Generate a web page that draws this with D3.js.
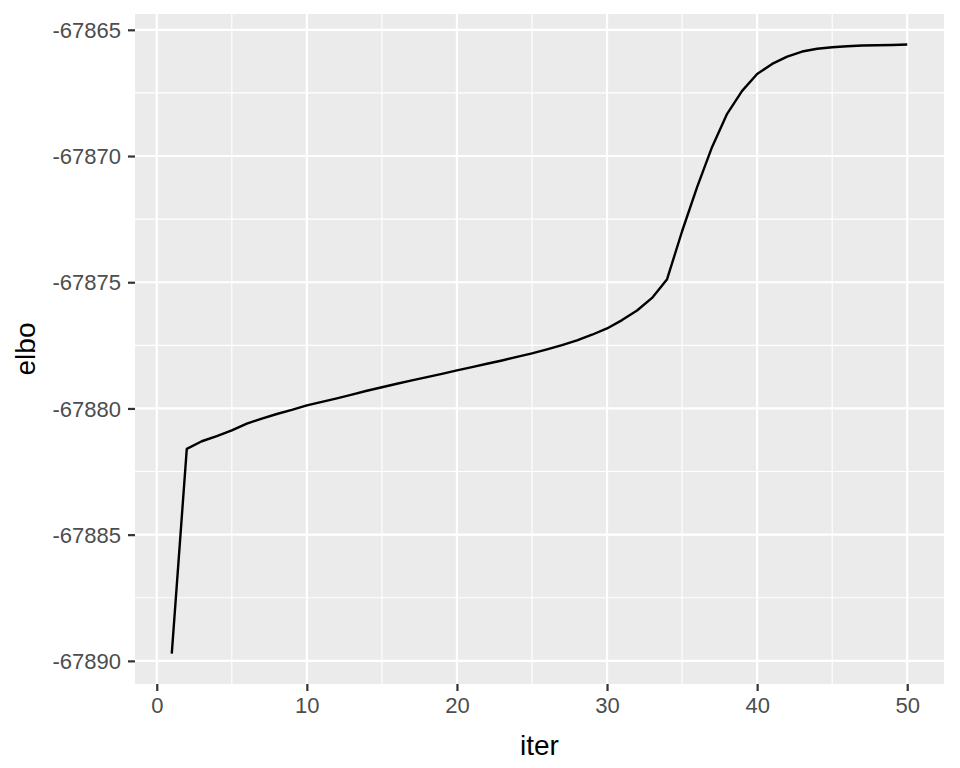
<!DOCTYPE html>
<html>
<head>
<meta charset="utf-8">
<script src="https://cdn.jsdelivr.net/npm/d3@7"></script>
<style>
  body { margin: 0; background: #fff; }
  text { font-family: "Liberation Sans", Arial, sans-serif; }
</style>
</head>
<body>
<div id="chart"></div>
<script>
// data
var iters = [1,2,3,4,5,6,7,8,9,10,11,12,13,14,15,16,17,18,19,20,21,22,23,24,25,
             26,27,28,29,30,31,32,33,34,35,36,37,38,39,40,41,42,43,44,45,46,47,48,49,50];
var elbo = [-67889.71,-67881.6,-67881.3,-67881.1,-67880.87,-67880.6,-67880.4,-67880.22,-67880.06,-67879.88,
            -67879.74,-67879.6,-67879.45,-67879.3,-67879.16,-67879.02,-67878.89,-67878.76,-67878.63,-67878.49,
            -67878.36,-67878.23,-67878.1,-67877.96,-67877.82,-67877.66,-67877.49,-67877.3,-67877.08,-67876.83,
            -67876.5,-67876.12,-67875.62,-67874.88,-67872.98,-67871.23,-67869.64,-67868.33,-67867.42,-67866.75,
            -67866.35,-67866.06,-67865.86,-67865.75,-67865.69,-67865.65,-67865.62,-67865.61,-67865.6,-67865.58];
var xTicks = [0, 10, 20, 30, 40, 50];
var xMinor = [5, 15, 25, 35, 45];
var yTicks = [-67890, -67885, -67880, -67875, -67870, -67865];
var yMinor = [-67887.5, -67882.5, -67877.5, -67872.5, -67867.5];

var data = iters.map(function(d, i) { return {iter: d, elbo: elbo[i]}; });

var width = 960, height = 768;
var margin = {top: 14, right: 16, bottom: 84, left: 135};
var pw = width - margin.left - margin.right,
    ph = height - margin.top - margin.bottom;

var svg = d3.select("#chart").append("svg")
    .attr("width", width)
    .attr("height", height);

// ggplot style 5% expansion
var xr = d3.extent(iters), yr = d3.extent(elbo);
var xpad = (xr[1] - xr[0]) * 0.05, ypad = (yr[1] - yr[0]) * 0.05;

var x = d3.scaleLinear().domain([xr[0] - xpad, xr[1] + xpad]).range([0, pw]);
var y = d3.scaleLinear().domain([yr[0] - ypad, yr[1] + ypad]).range([ph, 0]);

var g = svg.append("g")
    .attr("transform", "translate(" + margin.left + "," + margin.top + ")");

g.append("rect")
    .attr("width", pw)
    .attr("height", ph)
    .attr("fill", "#ebebeb");

// minor grid
g.selectAll(".xminor").data(xMinor).enter().append("line")
    .attr("x1", function(d) { return x(d); }).attr("x2", function(d) { return x(d); })
    .attr("y1", 0).attr("y2", ph)
    .attr("stroke", "#fff").attr("stroke-width", 1.1);
g.selectAll(".yminor").data(yMinor).enter().append("line")
    .attr("y1", function(d) { return y(d); }).attr("y2", function(d) { return y(d); })
    .attr("x1", 0).attr("x2", pw)
    .attr("stroke", "#fff").attr("stroke-width", 1.1);

// major grid
g.selectAll(".xmajor").data(xTicks).enter().append("line")
    .attr("x1", function(d) { return x(d); }).attr("x2", function(d) { return x(d); })
    .attr("y1", 0).attr("y2", ph)
    .attr("stroke", "#fff").attr("stroke-width", 2.2);
g.selectAll(".ymajor").data(yTicks).enter().append("line")
    .attr("y1", function(d) { return y(d); }).attr("y2", function(d) { return y(d); })
    .attr("x1", 0).attr("x2", pw)
    .attr("stroke", "#fff").attr("stroke-width", 2.2);

// the line
var line = d3.line()
    .x(function(d) { return x(d.iter); })
    .y(function(d) { return y(d.elbo); });

g.append("path")
    .datum(data)
    .attr("d", line)
    .attr("fill", "none")
    .attr("stroke", "#000")
    .attr("stroke-width", 2.4)
    .attr("stroke-linejoin", "round");

// axes (plain hyphen for negatives, like R)
var fmt = function(d) { return String(d); };
var xAxis = g.append("g")
    .attr("transform", "translate(0," + ph + ")")
    .call(d3.axisBottom(x).tickValues(xTicks).tickSize(7).tickPadding(6).tickFormat(fmt));
var yAxis = g.append("g")
    .call(d3.axisLeft(y).tickValues(yTicks).tickSize(7).tickPadding(7).tickFormat(fmt));

[xAxis, yAxis].forEach(function(a) {
  a.select(".domain").remove();
  a.selectAll(".tick line").attr("stroke", "#333").attr("stroke-width", 2.2);
  a.selectAll(".tick text")
    .attr("fill", "#4d4d4d")
    .style("font-size", "22px")
    .style("font-family", "'Liberation Sans', Arial, sans-serif");
});
yAxis.selectAll(".tick text").attr("dy", "0.35em");

// axis titles
svg.append("text")
    .attr("x", margin.left + pw / 2)
    .attr("y", 755)
    .attr("text-anchor", "middle")
    .style("font-size", "28px")
    .attr("fill", "#000")
    .text("iter");

svg.append("text")
    .attr("transform", "translate(35," + (margin.top + ph / 2) + ") rotate(-90)")
    .attr("text-anchor", "middle")
    .style("font-size", "28px")
    .attr("fill", "#000")
    .text("elbo");
</script>
</body>
</html>
